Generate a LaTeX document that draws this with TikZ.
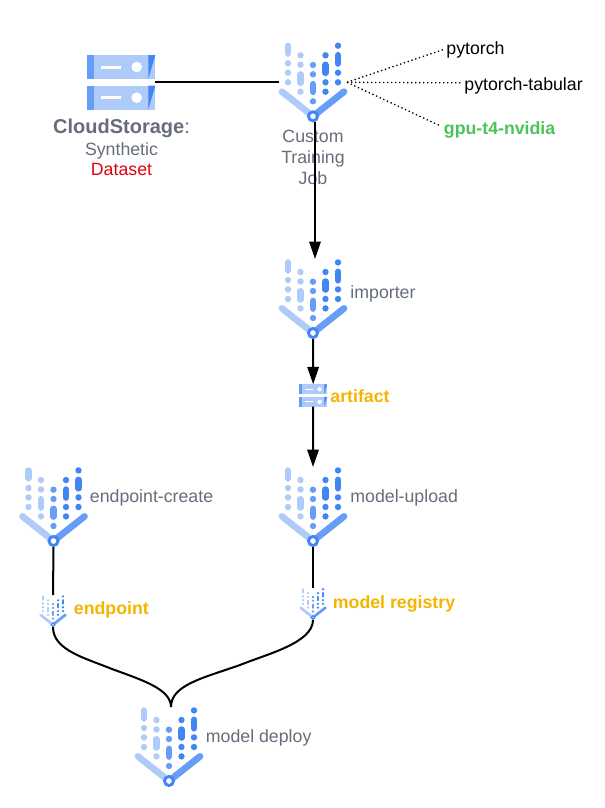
\documentclass[tikz,border=0pt]{standalone}
\usepackage{fontspec}
\setmainfont{Liberation Sans}
\usetikzlibrary{arrows.meta}
\definecolor{iconlight}{HTML}{AECBFA}
\definecolor{iconmid}{HTML}{669DF6}
\definecolor{iconstrong}{HTML}{4285F4}
\definecolor{labelgray}{HTML}{666D7A}
\definecolor{labelamber}{HTML}{F4B400}
\definecolor{labelgreen}{HTML}{4CC35A}
\definecolor{labelred}{HTML}{E00010}
\tikzset{
  plain/.style={font=\fontsize{13.3}{16}\selectfont, inner sep=2pt},
  steptext/.style={plain, text=labelgray, anchor=west},
  outtext/.style={font=\fontsize{13.3}{16}\selectfont\bfseries, inner sep=2pt, text=labelamber, anchor=west},
  pkgtext/.style={plain, text=black, anchor=west},
  link/.style={draw=black, line width=1.5pt},
  flow/.style={link, -{Stealth[length=13pt, width=8.5pt, inset=0pt]}},
  pics/pipeicon/.style={code={
    \begin{scope}[scale=#1]
      % dots and pills, one colour per column
      \foreach \cx/\cy in {-25/-53,-25/-43.6,-25/-34,-12.5/-61,-12.5/-51.6,-12.5/-24.6}
        \fill[iconlight] (\cx,\cy) circle (3.2);
      \foreach \cx/\cy in {0/-51.3,0/-42,0/-15}
        \fill[iconmid] (\cx,\cy) circle (3.2);
      \foreach \cx/\cy in {12.5/-61,12.5/-34,12.5/-24.6,25/-70.6,25/-43.6,25/-34}
        \fill[iconstrong] (\cx,\cy) circle (3.2);
      \draw[iconlight, line cap=round, line width={#1*5pt}] (-25,-70.4) -- (-25,-62.8);
      \draw[iconlight, line cap=round, line width={#1*5pt}] (-12.5,-41.8) -- (-12.5,-33.5);
      \draw[iconmid, line cap=round, line width={#1*5pt}] (0,-32.1) -- (0,-24.5);
      \draw[iconstrong, line cap=round, line width={#1*5pt}] (12.5,-51.4) -- (12.5,-43.5);
      \draw[iconstrong, line cap=round, line width={#1*5pt}] (25,-61.1) -- (25,-52.8);
      % the two arms and the ring
      \draw[iconlight, line cap=round, line width={#1*5pt}] (-31,-24.6) -- (0,0);
      \draw[iconmid, line cap=round, line width={#1*5pt}] (31,-24.6) -- (0,0);
      \draw[iconstrong, fill=white, line width={#1*2.2pt}] (0,0) circle (4.5);
    \end{scope}
    \coordinate (-top) at (0,-74*#1);
    \coordinate (-bottom) at (0,6*#1);
    \coordinate (-left) at (-34*#1,-34*#1);
    \coordinate (-right) at (34*#1,-34*#1);
  }},
  pics/storageicon/.style={code={
    \begin{scope}[scale=#1]
      \foreach \top in {-27.3,3.4} {
        \fill[iconlight] (-34,\top) rectangle (34,\top+24);
        \fill[iconmid] (-34,\top) rectangle (-27,\top+24);
        \fill[iconstrong] (27,\top) -- (34,\top) -- (27,\top+24) -- cycle;
        \fill[white] (-20.5,\top+10.5) rectangle (-0.5,\top+13.5);
        \fill[white] (15.4,\top+12) circle (5.3);
      }
    \end{scope}
    \coordinate (-right) at (34*#1,0);
    \coordinate (-top) at (0,-27.3*#1);
    \coordinate (-bottom) at (0,27.4*#1);
  }}
}
\begin{document}
\begin{tikzpicture}[x=0.75pt, y=-0.75pt]
  \useasboundingbox (0,0) rectangle (605,808);

  % icons
  \pic (storage) at (121.3,82.3) {storageicon=1};
  \pic (train) at (313,116.3) {pipeicon=1};
  \pic (importer) at (313,333) {pipeicon=1};
  \pic (artifact) at (313.2,395.5) {storageicon=0.41};
  \pic (upload) at (313,541) {pipeicon=1};
  \pic (create) at (53.5,541) {pipeicon=1};
  \pic (endpoint) at (53,624.7) {pipeicon=0.4};
  \pic (registry) at (313,617.5) {pipeicon=0.4};
  \pic (deploy) at (169,781) {pipeicon=1};

  % labels
  \node[plain, anchor=center, align=center, text=labelgray] (storagetext) at (121.5,147)
    {\fontsize{15}{16}\selectfont\bfseries CloudStorage\mdseries:\\[1pt]Synthetic\\[-1.5pt]\textcolor{labelred}{Dataset}};
  \node[plain, anchor=center, align=center, text=labelgray] (traintext) at (313,157.5)
    {Custom\\Training\\Job};
  \node[pkgtext] (pytorch) at (443.5,49.5) {pytorch};
  \node[pkgtext] (tabular) at (461.5,85.5) {pytorch-tabular};
  \node[pkgtext, text=labelgreen, font=\fontsize{13.3}{16}\selectfont\bfseries] (gpu) at (441,129.5) {gpu-t4-nvidia};
  \node[steptext] (importertext) at (347.5,293.5) {importer};
  \node[outtext] (artifacttext) at (327.5,396) {artifact};
  \node[steptext] (uploadtext) at (347.5,498) {model-upload};
  \node[steptext] (createtext) at (87,498) {endpoint-create};
  \node[outtext] (endpointtext) at (71,609.5) {endpoint};
  \node[outtext] (registrytext) at (330,604) {model registry};
  \node[steptext] (deploytext) at (203,737.5) {model deploy};

  % connectors
  \draw[link] (storage-right) -- (train-left |- storage-right);
  \draw[flow] ([xshift=1.5pt]train-bottom) -- ([xshift=1.5pt]importer-top);
  \draw[flow] (importer-bottom) -- (artifact-top);
  \draw[flow] (artifact-bottom) -- (upload-top);
  \draw[link] (create-bottom) -- (endpoint-top);
  \draw[link] (upload-bottom) -- (registry-top);

  \coordinate (leftmid) at (112,669);
  \coordinate (rightmid) at (240,665);
  \draw[link] (endpoint-bottom) .. controls +(0,23) and +(-27,-11) .. (leftmid)
    .. controls +(30,11) and +(0,-18) .. ([xshift=1.5pt]deploy-top);
  \draw[link] (registry-bottom) .. controls +(0,23) and +(27,-11) .. (rightmid)
    .. controls +(-37,13) and +(0,-22) .. ([xshift=1.5pt]deploy-top);

  % dotted lines to the packages
  \draw[line width=1pt, dotted] (train-right) -- (pytorch.west);
  \draw[line width=1pt, dotted] (train-right) -- ([yshift=2pt]tabular.west);
  \draw[line width=1pt, dotted] (train-right) -- ([yshift=2.5pt]gpu.west);
\end{tikzpicture}
\end{document}
